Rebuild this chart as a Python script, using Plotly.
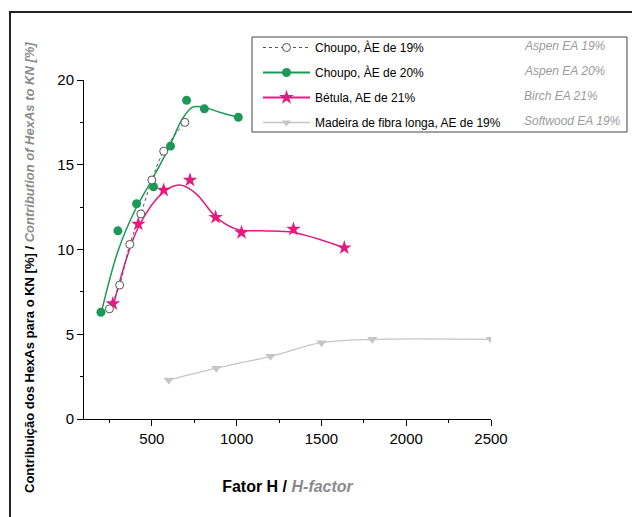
import plotly.graph_objects as go

# ---- data ----
aspen19_h = [250, 310, 370, 435, 500, 570, 695]
aspen19_v = [6.5, 7.9, 10.3, 12.1, 14.1, 15.8, 17.5]

aspen20_h = [200, 300, 410, 510, 610, 705, 810, 1010]
aspen20_v = [6.3, 11.1, 12.7, 13.7, 16.1, 18.8, 18.3, 17.8]
aspen20_fit_h = [200, 300, 400, 500, 600, 680, 740, 800, 900, 1010]
aspen20_fit_v = [6.2, 9.9, 12.3, 14.1, 16.0, 17.7, 18.4, 18.4, 18.1, 17.8]

birch_h = [270, 420, 570, 725, 876, 1029, 1335, 1635]
birch_v = [6.8, 11.5, 13.5, 14.1, 11.9, 11.0, 11.2, 10.1]
birch_fit_h = [270, 420, 570, 665, 760, 880, 1000, 1150, 1335, 1635]
birch_fit_v = [6.6, 11.3, 13.4, 13.8, 13.3, 11.9, 11.2, 11.1, 11.0, 10.1]

soft_h = [600, 880, 1200, 1500, 1800, 2500]
soft_v = [2.3, 3.0, 3.7, 4.5, 4.7, 4.7]

names_pt = ["Choupo, ÀE de 19%", "Choupo, ÀE de 20%", "Bétula, AE de 21%",
            "Madeira de fibra longa, AE de 19%"]
names_en = ["Aspen EA 19%", "Aspen EA 20%", "Birch EA 21%", "Softwood EA 19%"]

x_title_pt = "Fator H"
x_title_en = "H-factor"
y_title_pt = "Contribuição dos HexAs para o KN [%]"
y_title_en = "Contribution of HexAs to KN [%]"

GREEN = "#1b9a57"
PINK = "#e5197f"
GREY = "#c6c6c6"
DARK = "#555555"
FONT = "Liberation Sans, Arial, sans-serif"

fig = go.Figure()

# curves
fig.add_trace(go.Scatter(x=soft_h, y=soft_v, mode="lines", line=dict(color=GREY, width=1.3, shape="spline"),
                         showlegend=False, hoverinfo="skip"))
fig.add_trace(go.Scatter(x=birch_fit_h, y=birch_fit_v, mode="lines", line=dict(color=PINK, width=1.5, shape="spline"),
                         showlegend=False, hoverinfo="skip"))
fig.add_trace(go.Scatter(x=aspen20_fit_h, y=aspen20_fit_v, mode="lines", line=dict(color=GREEN, width=1.5, shape="spline"),
                         showlegend=False, hoverinfo="skip"))
fig.add_trace(go.Scatter(x=aspen19_h, y=aspen19_v, mode="lines", line=dict(color=DARK, width=1, dash="3px,3px", shape="spline"),
                         showlegend=False, hoverinfo="skip"))

# markers
fig.add_trace(go.Scatter(x=soft_h, y=soft_v, mode="markers",
                         marker=dict(symbol="triangle-down", size=9, color=GREY), showlegend=False))
fig.add_trace(go.Scatter(x=birch_h, y=birch_v, mode="markers",
                         marker=dict(symbol="star", size=11, color=PINK), showlegend=False))
fig.add_trace(go.Scatter(x=aspen20_h, y=aspen20_v, mode="markers",
                         marker=dict(symbol="circle", size=9, color=GREEN), showlegend=False))
fig.add_trace(go.Scatter(x=aspen19_h, y=aspen19_v, mode="markers",
                         marker=dict(symbol="circle", size=8, color="white", line=dict(color=DARK, width=1)),
                         showlegend=False))

# legend-only entries
leg_styles = [
    dict(line=dict(color=DARK, width=1, dash="3px,3px"), marker=dict(symbol="circle", size=8, color="white", line=dict(color=DARK, width=1))),
    dict(line=dict(color=GREEN, width=2), marker=dict(symbol="circle", size=9, color=GREEN)),
    dict(line=dict(color=PINK, width=2), marker=dict(symbol="star", size=11, color=PINK)),
    dict(line=dict(color=GREY, width=1.5), marker=dict(symbol="triangle-down", size=8, color=GREY)),
]
for i, (nm, st) in enumerate(zip(names_pt, leg_styles)):
    fig.add_trace(go.Scatter(x=[None], y=[None], mode="lines+markers", name=nm,
                             legendgroup=f"g{i}", **st))

# plot area: x px 84..491, y px 80..419
L, R, T, B = 84, 491, 80, 419
W, H = 632, 517


def px_x(p):
    return (p - L) / (R - L)


def px_y(p):
    return (B - p) / (B - T)


shapes = [
    # outer frame
    dict(type="rect", xref="paper", yref="paper", x0=px_x(10), x1=px_x(645), y0=px_y(540), y1=px_y(12),
         line=dict(color="#222222", width=2)),
    # legend box
    dict(type="rect", xref="paper", yref="paper", x0=px_x(252), x1=px_x(627), y0=px_y(132), y1=px_y(37),
         line=dict(color="#444444", width=1)),
]

rows_y = [46, 71, 96, 121]
annotations = []
for txt, yy in zip(names_en, rows_y):
    annotations.append(dict(xref="paper", yref="paper", x=px_x(522), y=px_y(yy), xanchor="left", yanchor="middle",
                            text=f"<i>{txt}</i>", showarrow=False,
                            font=dict(family=FONT, size=12, color="#9a9a9a")))

# y-axis title as rotated annotation (reference is offset downward from the axis centre)
annotations.append(dict(xref="paper", yref="paper", x=px_x(29), y=px_y(268), xanchor="center", yanchor="middle",
                        textangle=-90, showarrow=False,
                        text=f"<b>{y_title_pt} / <span style='color:#8a8a8a'><i>{y_title_en}</i></span></b>",
                        font=dict(family=FONT, size=13, color="black")))

fig.update_layout(
    width=W, height=H,
    margin=dict(l=L, r=W - R, t=T, b=H - B),
    paper_bgcolor="white", plot_bgcolor="white",
    font=dict(family=FONT, size=14, color="black"),
    shapes=shapes, annotations=annotations,
    legend=dict(x=px_x(258), y=px_y(33), xanchor="left", yanchor="top",
                bgcolor="rgba(0,0,0,0)", borderwidth=0, tracegroupgap=6,
                font=dict(family=FONT, size=12, color="black"), itemwidth=47),
    xaxis=dict(range=[100, 2500], tick0=0, dtick=500, showgrid=False, zeroline=False,
               showline=True, linecolor="black", linewidth=1, ticks="outside", ticklen=6, tickcolor="black",
               minor=dict(dtick=250, tick0=0, ticks="outside", ticklen=3, tickcolor="black", showgrid=False),
               tickfont=dict(family=FONT, size=15),
               title=dict(text=f"<b>{x_title_pt} / <span style='color:#8a8a8a'><i>{x_title_en}</i></span></b>",
                          font=dict(family=FONT, size=16), standoff=34)),
    yaxis=dict(range=[0, 20], tick0=0, dtick=5, showgrid=False, zeroline=False,
               showline=True, linecolor="black", linewidth=1, ticks="outside", ticklen=6, tickcolor="black",
               minor=dict(dtick=2.5, tick0=0, ticks="outside", ticklen=3, tickcolor="black", showgrid=False),
               tickfont=dict(family=FONT, size=15)),
)

fig.write_html("out.html")
